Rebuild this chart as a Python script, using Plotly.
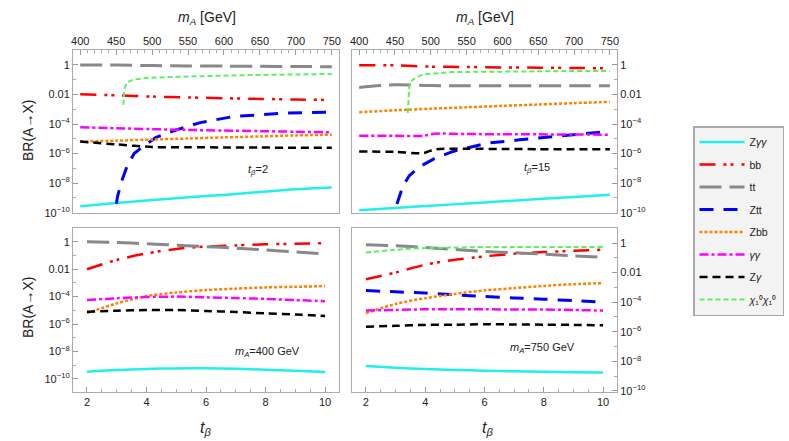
import plotly.graph_objects as go

# ---- scans ----
mA = [400, 450, 500, 550, 600, 650, 700, 750]          # GeV, top panels
mA_kink = [400, 450, 490, 505, 550, 600, 650, 700, 750]
tb = [2, 3, 4, 5, 6, 7, 8, 9, 10]                      # t_beta, bottom panels

# ---- t_beta = 2 (top left) ----
zgg_t2 = [2.7e-10, 4.5e-10, 7.1e-10, 1.1e-9, 1.6e-9, 2.5e-9, 3.8e-9, 5e-9]
bb_t2 = [0.0105, 0.0088, 0.0072, 0.0063, 0.0056, 0.005, 0.0046, 0.0042]
tt_t2 = [1.0, 0.99, 0.9, 0.86, 0.83, 0.8, 0.78, 0.76]
ztt_t2_x = [445, 452, 458, 465, 475, 488, 505, 521, 545, 567, 613, 683, 750]
ztt_t2 = [1e-11, 1.3e-9, 1.5e-8, 1.3e-7, 1e-6, 3.2e-6, 1.2e-5, 2.5e-5, 6e-5, 1.25e-4, 3.2e-4, 5.4e-4, 6.5e-4]
zbb_t2 = [6.5e-6, 7.5e-6, 9e-6, 1.05e-5, 1.25e-5, 1.45e-5, 1.7e-5, 1.9e-5]
gg_t2 = [6e-5, 5.2e-5, 4.5e-5, 4e-5, 3.6e-5, 3.3e-5, 3e-5, 2.8e-5]
zg_t2 = [6.5e-6, 4.2e-6, 2.8e-6, 2.7e-6, 2.6e-6, 2.55e-6, 2.5e-6, 2.5e-6]
chi_t2_x = [460, 461, 463, 466, 474, 490, 521, 567, 620, 680, 750]
chi_t2 = [0.002, 0.012, 0.04, 0.07, 0.1, 0.13, 0.15, 0.18, 0.2, 0.22, 0.245]

# ---- t_beta = 15 (top right) ----
zgg_t15 = [1.45e-10, 2.1e-10, 2.95e-10, 4.2e-10, 5.9e-10, 8.3e-10, 1.17e-9, 1.66e-9]
bb_t15 = [0.95, 0.93, 0.77, 0.72, 0.68, 0.65, 0.62, 0.59]
tt_t15 = [0.03, 0.045, 0.04, 0.039, 0.039, 0.039, 0.039, 0.039]
ztt_t15_x = [446, 452, 461, 470, 485, 505, 531, 578, 624, 670, 710, 750]
ztt_t15 = [1e-11, 3e-10, 6.3e-9, 3.2e-8, 1.35e-7, 4.5e-7, 1.4e-6, 5e-6, 8.5e-6, 1.45e-5, 2.1e-5, 3.2e-5]
zbb_t15 = [6.3e-4, 8.5e-4, 1.1e-3, 1.35e-3, 1.7e-3, 2.1e-3, 2.6e-3, 3.2e-3]
gg_t15 = [1.6e-5, 1.6e-5, 1.6e-5, 2.2e-5, 2.1e-5, 2.05e-5, 2e-5, 1.95e-5, 1.9e-5]
zg_t15 = [1.4e-6, 1.3e-6, 1.1e-6, 1.9e-6, 2.1e-6, 2.05e-6, 2e-6, 2e-6, 2e-6]
chi_t15_x = [468, 469, 470, 473, 476, 485, 494, 531, 600, 680, 750]
chi_t15 = [5.6e-4, 0.005, 0.035, 0.08, 0.11, 0.19, 0.24, 0.33, 0.37, 0.38, 0.39]

# ---- m_A = 400 GeV (bottom left) ----
zgg_m400 = [3.4e-10, 4.5e-10, 5.4e-10, 5.9e-10, 6e-10, 5.6e-10, 4.7e-10, 4e-10, 3.2e-10]
bb_m400 = [0.0098, 0.047, 0.14, 0.3, 0.44, 0.54, 0.65, 0.71, 0.79]
tt_m400 = [1.0, 0.89, 0.71, 0.56, 0.44, 0.34, 0.25, 0.18, 0.126]
zbb_m400 = [6.3e-6, 3.2e-5, 1.1e-4, 2e-4, 3e-4, 3.8e-4, 4.7e-4, 5.2e-4, 5.9e-4]
gg_m400 = [5.6e-5, 7.6e-5, 9.3e-5, 1e-4, 8.9e-5, 7.9e-5, 6.8e-5, 5.6e-5, 4.6e-5]
zg_m400 = [7.9e-6, 9.5e-6, 1.05e-5, 1.05e-5, 8.9e-6, 7.6e-6, 6e-6, 5e-6, 3.9e-6]

# ---- m_A = 750 GeV (bottom right) ----
zgg_m750 = [4.7e-9, 3.6e-9, 2.95e-9, 2.6e-9, 2.3e-9, 2.1e-9, 1.95e-9, 1.8e-9, 1.74e-9]
bb_m750 = [0.0036, 0.0102, 0.034, 0.074, 0.126, 0.19, 0.245, 0.3, 0.355]
tt_m750 = [0.78, 0.66, 0.51, 0.37, 0.27, 0.22, 0.18, 0.138, 0.107]
ztt_m750 = [6.2e-4, 5e-4, 4.1e-4, 3.2e-4, 2.4e-4, 1.95e-4, 1.6e-4, 1.26e-4, 1e-4]
zbb_m750 = [1.8e-5, 7.6e-5, 1.86e-4, 3.6e-4, 6.2e-4, 8.9e-4, 1.26e-3, 1.66e-3, 1.95e-3]
gg_m750 = [2.7e-5, 3e-5, 3.3e-5, 3.3e-5, 3.3e-5, 3.2e-5, 3.2e-5, 2.95e-5, 2.7e-5]
zg_m750 = [2.2e-6, 2.5e-6, 2.9e-6, 3e-6, 3.2e-6, 3.1e-6, 3e-6, 2.9e-6, 2.7e-6]
chi_m750 = [0.23, 0.35, 0.46, 0.5, 0.54, 0.54, 0.54, 0.54, 0.54]

# legend order and labels
channels = ["zgg", "bb", "tt", "ztt", "zbb", "gg", "zg", "chi"]
labels = {
    "zgg": "Z<i>γγ</i>", "bb": "bb", "tt": "tt", "ztt": "Ztt",
    "zbb": "Zbb", "gg": "<i>γγ</i>", "zg": "Z<i>γ</i>", "chi": "<i>χ</i>₁⁰<i>χ</i>₁⁰",
}

# line looks
styles = {
    "zgg": dict(color="#22eeee", dash="solid", width=2.5),
    "bb": dict(color="#ff0000", dash="16px,8px,3px,4px,3px,8px", width=2.5),
    "tt": dict(color="#888888", dash="22px,8px", width=3),
    "ztt": dict(color="#0000ff", dash="14px,10px", width=3),
    "zbb": dict(color="#ff8000", dash="3px,2px", width=2.5),
    "gg": dict(color="#ff00ff", dash="9px,3px,3px,3px", width=2.5),
    "zg": dict(color="#000000", dash="8px,5px", width=2.5),
    "chi": dict(color="#5cf05c", dash="5px,3px", width=2),
}

panels = [
    ("x", "y", {
        "zgg": (mA, zgg_t2), "bb": (mA, bb_t2), "tt": (mA, tt_t2),
        "ztt": (ztt_t2_x, ztt_t2), "zbb": (mA, zbb_t2), "gg": (mA, gg_t2),
        "zg": (mA, zg_t2), "chi": (chi_t2_x, chi_t2)}),
    ("x2", "y2", {
        "zgg": (mA, zgg_t15), "bb": (mA, bb_t15), "tt": (mA, tt_t15),
        "ztt": (ztt_t15_x, ztt_t15), "zbb": (mA, zbb_t15), "gg": (mA_kink, gg_t15),
        "zg": (mA_kink, zg_t15), "chi": (chi_t15_x, chi_t15)}),
    ("x3", "y3", {
        "zgg": (tb, zgg_m400), "bb": (tb, bb_m400), "tt": (tb, tt_m400),
        "zbb": (tb, zbb_m400), "gg": (tb, gg_m400), "zg": (tb, zg_m400)}),
    ("x4", "y4", {
        "zgg": (tb, zgg_m750), "bb": (tb, bb_m750), "tt": (tb, tt_m750),
        "ztt": (tb, ztt_m750), "zbb": (tb, zbb_m750), "gg": (tb, gg_m750),
        "zg": (tb, zg_m750), "chi": (tb, chi_m750)}),
]

fig = go.Figure()
for i, (xa, ya, series) in enumerate(panels):
    for ch in channels:
        if ch not in series:
            continue
        xs, ys = series[ch]
        steep = ch in ("ztt", "chi") and i < 2
        fig.add_trace(go.Scatter(
            x=xs, y=ys, xaxis=xa, yaxis=ya, mode="lines",
            name=labels[ch], legendgroup=ch, showlegend=(i == 0),
            line=dict(shape="linear" if steep else "spline", smoothing=0.8, **styles[ch]),
            hoverinfo="skip",
        ))

FONT = "Liberation Sans, Arial, sans-serif"
FRAME = "#ababab"
W, H = 789, 441

ytv = [1e-10, 1e-8, 1e-6, 1e-4, 1e-2, 1]
ytt = ["10<sup>−10</sup>", "10<sup>−8</sup>", "10<sup>−6</sup>", "10<sup>−4</sup>", "0.01", "1"]
ymin = [1e-11, 1e-9, 1e-7, 1e-5, 1e-3, 0.1]

def xdom(l, r):
    return [l / W, r / W]

def ydom(t, b):
    return [1 - b / H, 1 - t / H]

common = dict(showline=True, mirror=True, linecolor=FRAME, linewidth=1, showgrid=False,
              zeroline=False, ticks="inside", ticklen=5, tickcolor="#999999",
              tickfont=dict(family=FONT, size=11, color="#222222"), automargin=False)

def top_x(dom, anchor):
    return dict(common, domain=dom, anchor=anchor, side="top", range=[390, 760],
                tickvals=[400, 450, 500, 550, 600, 650, 700, 750],
                minor=dict(dtick=10, ticks="inside", ticklen=3, tickcolor="#aaaaaa"))

def bot_x(dom, anchor):
    return dict(common, domain=dom, anchor=anchor, range=[1.53, 10.47],
                tickvals=[2, 4, 6, 8, 10],
                minor=dict(dtick=0.5, ticks="inside", ticklen=3, tickcolor="#aaaaaa"))

def log_y(dom, anchor, rng, side):
    return dict(common, domain=dom, anchor=anchor, type="log", range=rng, side=side,
                tickvals=ytv, ticktext=ytt,
                minor=dict(tickvals=ymin, ticks="inside", ticklen=3, tickcolor="#aaaaaa"))

L1, R1, L2, R2 = 73, 339, 352, 617
fig.update_layout(
    width=W, height=H, template="none",
    margin=dict(l=0, r=0, t=0, b=0),
    paper_bgcolor="white", plot_bgcolor="white",
    font=dict(family=FONT, size=11, color="#222222"),
    xaxis=top_x(xdom(L1, R1), "y"),
    yaxis=log_y(ydom(50, 213), "x", [-10.02, 1.01], "left"),
    xaxis2=top_x(xdom(L2, R2), "y2"),
    yaxis2=log_y(ydom(50, 213), "x2", [-10.02, 1.01], "right"),
    xaxis3=bot_x(xdom(L1, R1), "y3"),
    yaxis3=log_y(ydom(228, 392), "x3", [-10.95, 1.0], "left"),
    xaxis4=bot_x(xdom(L2, R2), "y4"),
    yaxis4=log_y(ydom(228, 392), "x4", [-10.08, 1.02], "right"),
    showlegend=True,
    legend=dict(x=693 / W, y=1 - 126 / H, xanchor="left", yanchor="top",
                bgcolor="#f3f3f3", bordercolor="#aaaaaa", borderwidth=1.5,
                font=dict(family=FONT, size=10.5, color="#222222"),
                tracegroupgap=3.5, itemwidth=45, traceorder="grouped"),
)

ann = dict(showarrow=False, xanchor="center", yanchor="middle",
           font=dict(family=FONT, size=14, color="#222222"))
# axis titles
fig.add_annotation(ann, text="BR(A→X)", xref="paper", yref="paper", x=28 / W, y=1 - 131 / H, textangle=-90)
fig.add_annotation(ann, text="BR(A→X)", xref="paper", yref="paper", x=28 / W, y=1 - 308 / H, textangle=-90)
fig.add_annotation(ann, text="<i>m<sub>A</sub></i> [GeV]", xref="paper", yref="paper", x=207 / W, y=1 - 18 / H)
fig.add_annotation(ann, text="<i>m<sub>A</sub></i> [GeV]", xref="paper", yref="paper", x=485 / W, y=1 - 18 / H)
fig.add_annotation(ann, text="<i>t<sub>β</sub></i>", xref="paper", yref="paper", x=205 / W, y=1 - 428 / H,
                   font=dict(family=FONT, size=16, color="#222222"))
fig.add_annotation(ann, text="<i>t<sub>β</sub></i>", xref="paper", yref="paper", x=487 / W, y=1 - 428 / H,
                   font=dict(family=FONT, size=16, color="#222222"))

# panel labels (log axes: y given as exponent)
small = dict(showarrow=False, xanchor="center", yanchor="middle",
             font=dict(family=FONT, size=11, color="#222222"))
fig.add_annotation(small, text="<i>t<sub>β</sub></i>=2", xref="x", yref="y", x=647, y=-7.1)
fig.add_annotation(small, text="<i>t<sub>β</sub></i>=15", xref="x2", yref="y2", x=648, y=-6.95)
fig.add_annotation(small, text="<i>m<sub>A</sub></i>=400 GeV", xref="x3", yref="y3", x=8.05, y=-8.0)
fig.add_annotation(small, text="<i>m<sub>A</sub></i>=750 GeV", xref="x4", yref="y4", x=7.97, y=-7.08)

fig.write_html("out.html", config={"displayModeBar": False},
               post_script="document.body.style.margin='0';")
